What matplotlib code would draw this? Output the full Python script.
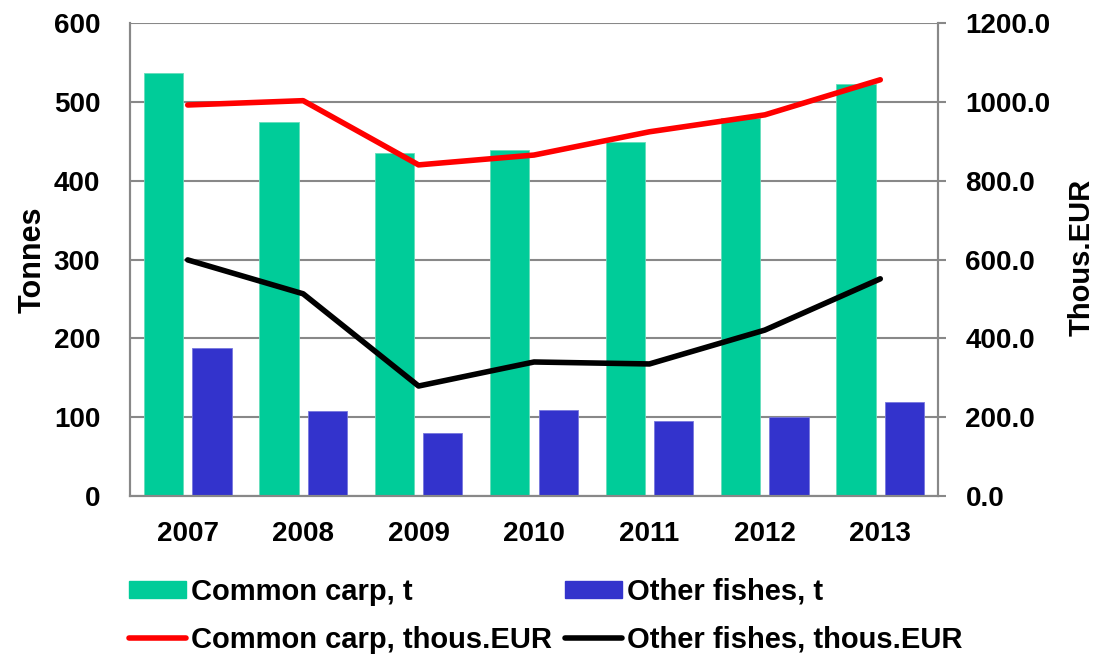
import numpy as np
import matplotlib.pyplot as plt
from matplotlib.lines import Line2D
from matplotlib.patches import Patch

plt.rcParams['font.family'] = ['Liberation Sans', 'DejaVu Sans']
plt.rcParams['font.weight'] = 'bold'

years = ["2007", "2008", "2009", "2010", "2011", "2012", "2013"]
carp_t = [537, 475, 435, 439, 449, 480, 523]
other_t = [188, 108, 80, 109, 95, 100, 119]
carp_eur = [992, 1003, 840, 865, 924, 967, 1056]
other_eur = [599, 513, 279, 340, 335, 421, 551]

green = "#00cc99"
blue = "#3333cc"
grey = "#888888"

fig = plt.figure(figsize=(11.03, 6.54), dpi=100)
ax = fig.add_axes([130 / 1103, 1 - 496 / 654, 808 / 1103, 473 / 654])
x = np.arange(len(years))

ax.bar(x - 0.21, carp_t, width=0.34, color=green, edgecolor="#66ddbb", linewidth=0.6, zorder=2)
ax.bar(x + 0.21, other_t, width=0.34, color=blue, edgecolor="#7777dd", linewidth=0.6, zorder=2)
ax.set_ylim(0, 600)
ax.set_xlim(-0.5, len(years) - 0.5)
ax.set_yticks(range(0, 601, 100))
ax.set_xticks(x)
ax.set_xticklabels(years)
ax.grid(axis="y", color=grey, linewidth=1.5, zorder=0)
ax.set_axisbelow(True)
ax.set_ylabel("Tonnes", fontsize=22, fontweight="bold")
ax.yaxis.set_label_coords(-0.102, 0.5)

ax2 = ax.twinx()
ax2.plot(x, carp_eur, color="red", linewidth=4, solid_capstyle="round", solid_joinstyle="round", zorder=3)
ax2.plot(x, other_eur, color="black", linewidth=4, solid_capstyle="round", solid_joinstyle="round", zorder=3)
ax2.set_ylim(0, 1200)
ax2.set_yticks(range(0, 1201, 200))
ax2.set_yticklabels([f"{v:.1f}" for v in range(0, 1201, 200)])
ax2.set_ylabel("Thous.EUR", fontsize=21, fontweight="bold")
ax2.yaxis.set_label_coords(1.160, 0.505)

for a in (ax, ax2):
    for s in a.spines.values():
        s.set_color(grey)
        s.set_linewidth(1.5)
    a.spines["top"].set_visible(False)
    for lbl in a.get_yticklabels() + a.get_xticklabels():
        lbl.set_fontweight("bold")
ax.tick_params(axis="y", length=0, labelsize=20, pad=21.5)
ax2.tick_params(axis="y", length=5.8, width=1.5, color=grey, labelsize=20, pad=14)
ax.tick_params(axis="x", length=0, labelsize=20, pad=18)

handles = [Patch(color=green), Patch(color=blue),
           Line2D([], [], color="red", linewidth=4, solid_capstyle="round"),
           Line2D([], [], color="black", linewidth=4, solid_capstyle="round")]
labels = ["Common carp, t", "Other fishes, t",
          "Common carp, thous.EUR", "Other fishes, thous.EUR"]
fig.legend([handles[0], handles[2], handles[1], handles[3]],
           [labels[0], labels[2], labels[1], labels[3]],
           ncol=2, loc="upper left", bbox_to_anchor=(129 / 1103, 1 - 578 / 654),
           frameon=False, borderpad=0, borderaxespad=0, prop={"size": 21, "weight": "bold"},
           handlelength=1.95, handleheight=0.5, handletextpad=0.17,
           columnspacing=0.45, labelspacing=0.68)

fig.savefig("out.png", dpi=100)
